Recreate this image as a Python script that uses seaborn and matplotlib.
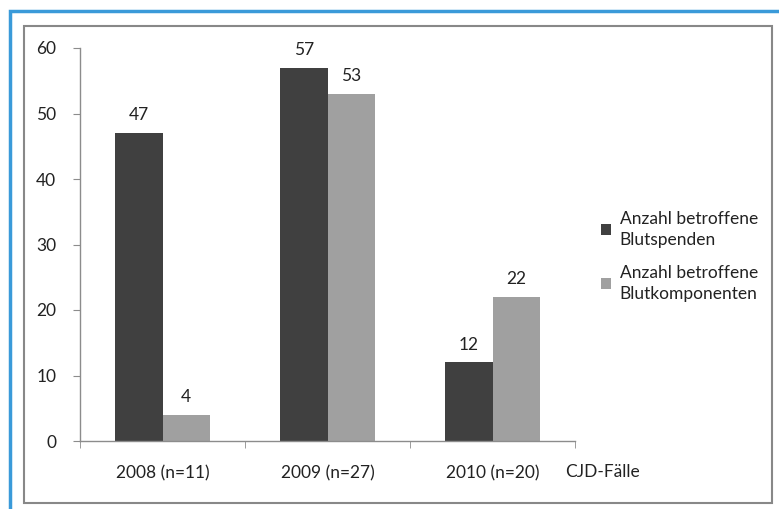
import pandas as pd
import matplotlib.pyplot as plt
import seaborn as sns
from matplotlib.patches import Rectangle

# Chart data
years = ['2008 (n=11)', '2009 (n=27)', '2010 (n=20)']
spenden = [47, 57, 12]
komponenten = [4, 53, 22]
series_names = ['Anzahl betroffene\nBlutspenden', 'Anzahl betroffene\nBlutkomponenten']
y_ticks = [0, 10, 20, 30, 40, 50, 60]

df = pd.DataFrame({
    'Jahr': years * 2,
    'Wert': spenden + komponenten,
    'Serie': [series_names[0]] * 3 + [series_names[1]] * 3,
})

sns.set_style('white')
plt.rcParams['font.family'] = ['Lato', 'DejaVu Sans']
FS = 12.5

fig = plt.figure(figsize=(7.79, 5.09), dpi=100)
ax = fig.add_axes([80 / 779, 1 - 441 / 509, 495 / 779, 393 / 509])

sns.barplot(data=df, x='Jahr', y='Wert', hue='Serie', ax=ax,
            palette=['#404040', '#a0a0a0'], width=0.57, gap=0,
            saturation=1, edgecolor='none', linewidth=0)

# value labels
for cont in ax.containers:
    ax.bar_label(cont, padding=7, fontsize=FS, color='#222222')

ax.set_ylim(0, 60)
ax.set_xlim(-0.5, 2.5)
ax.set_yticks(y_ticks)
ax.set_xlabel('')
ax.set_ylabel('')

# axes styling
for s in ['top', 'right']:
    ax.spines[s].set_visible(False)
for s in ['left', 'bottom']:
    ax.spines[s].set_color('#8c8c8c')
    ax.spines[s].set_linewidth(1)

ax.tick_params(axis='y', left=True, length=5, color='#8c8c8c', labelsize=FS,
               labelcolor='#222222', pad=12)
ax.set_xticks([0, 1, 2])
ax.set_xticklabels(years)
ax.tick_params(axis='x', bottom=False, labelsize=FS, labelcolor='#222222', pad=14)
# category boundary ticks
ax.set_xticks([-0.5, 0.5, 1.5, 2.5], minor=True)
ax.tick_params(axis='x', which='minor', bottom=True, length=5, color='#8c8c8c')

ax.text(2.44, -31 / 393, 'CJD-Fälle', transform=ax.get_xaxis_transform(),
        fontsize=FS, color='#222222', ha='left', va='center')

ax.legend(loc='center left', bbox_to_anchor=(1.02, 0.47), frameon=False,
          fontsize=FS, handlelength=0.6, handleheight=0.6, handletextpad=0.5,
          labelspacing=1.0, labelcolor='#222222')
for t in ax.get_legend().get_texts():
    t.set_linespacing(1.35)

# frames
fig.patches.append(Rectangle((10 / 779, -0.1), 1.2, 1 - 11 / 509 + 0.1,
                             transform=fig.transFigure, fill=False,
                             edgecolor='#3a9ad9', linewidth=2.5))
fig.patches.append(Rectangle((24 / 779, 1 - 503 / 509), 748 / 779, 477 / 509,
                             transform=fig.transFigure, fill=False,
                             edgecolor='#888888', linewidth=1.5))

fig.savefig('out.png', dpi=100)
